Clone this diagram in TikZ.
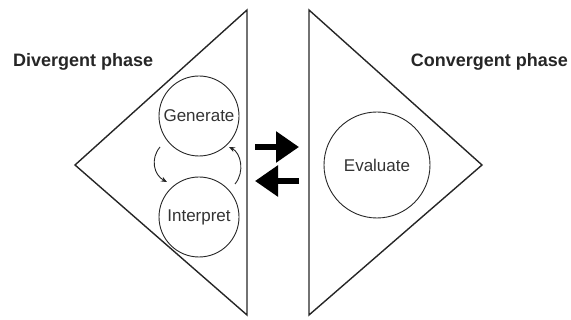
\documentclass[tikz,border=0pt]{standalone}
\usepackage{fontspec}
\setmainfont{Liberation Sans}
\usetikzlibrary{arrows.meta,calc}
\begin{document}
\begin{tikzpicture}[x=1pt,y=-1pt,
  tri/.style={draw=black!85, line width=1.4pt, line join=miter},
  phasecircle/.style={circle, draw=black!85, line width=0.9pt, inner sep=0pt, font=\fontsize{17}{17}\selectfont, text=black!80},
  title/.style={font=\fontsize{18}{18}\bfseries\selectfont, text=black!85, inner sep=0pt},
  blockarrow/.style={line width=6pt, black, -{Triangle[length=23pt,width=30pt]}},
  cyc/.style={line width=0.9pt, black!85, -{Stealth[length=6pt,width=5pt]}}]
\useasboundingbox (0,0) rectangle (571,320);
% triangles
\coordinate (LT) at (247,10);
\coordinate (LB) at (247,315);
\coordinate (LA) at (75,165);
\coordinate (RT) at (309,10);
\coordinate (RB) at (309,315);
\coordinate (RA) at (482,165);
\draw[tri] (LT) -- (LA) -- (LB) -- cycle;
\draw[tri] (RT) -- (RA) -- (RB) -- cycle;
% titles
\node[title, anchor=base west] (div) at (13,67) {Divergent phase};
\node[title, anchor=base east] (conv) at (568,67) {Convergent phase};
% circles
\node[phasecircle, minimum size=80pt] (gen) at (199,116) {Generate};
\node[phasecircle, minimum size=80pt] (int) at (199,217) {Interpret};
\node[phasecircle, minimum size=106pt] (eva) at (377,165) {Evaluate};
% block arrows
\coordinate (a1s) at (255,147);
\coordinate (a1e) at (299,147);
\coordinate (a2s) at (299,181);
\coordinate (a2e) at (255,181);
\draw[blockarrow] (a1s) -- (a1e);
\draw[blockarrow] (a2s) -- (a2e);
% cycle arrows
\draw[cyc] ($(gen.center)+(-39,31)$) .. controls +(-10,12) and +(-13,-7) .. ($(int.center)+(-32,-35)$);
\draw[cyc] ($(int.center)+(36,-33)$) .. controls +(10,-12) and +(12,6) .. ($(gen.center)+(30,31)$);
\end{tikzpicture}
\end{document}
